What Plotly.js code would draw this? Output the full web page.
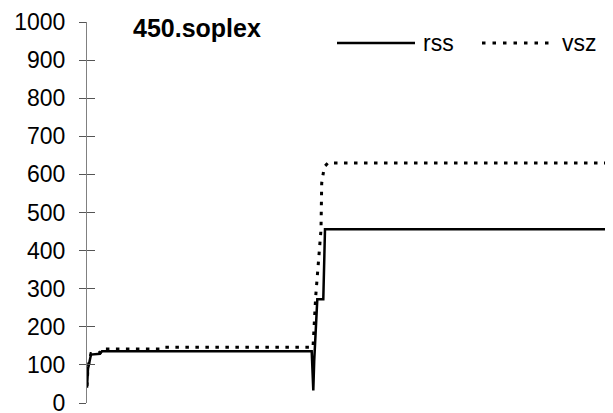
<!DOCTYPE html>
<html>
<head>
<meta charset="utf-8">
<script src="https://cdn.plot.ly/plotly-3.0.1.min.js"></script>
<style>html,body{margin:0;padding:0;background:#fff;}#chart{width:613px;height:413px;}</style>
</head>
<body>
<div id="chart"></div>
<script>
// Sample index (time steps) and memory values
const rssX = [0, 1, 4, 13, 15, 224.7, 226.3, 227.2, 230.3, 236.3, 238, 518];
const rssY = [40, 90, 127, 129, 136, 136, 33, 110, 272, 272, 456, 456];
const vszX = [0, 1, 4, 13, 15, 75, 77, 226, 228.7, 234, 234.7, 237.3, 241, 518];
const vszY = [45, 95, 130, 132, 142, 142, 146, 146, 280, 455, 577, 620, 630, 630];
const seriesNames = ['rss', 'vsz'];
const chartTitle = '450.soplex';
const yTicks = [0, 100, 200, 300, 400, 500, 600, 700, 800, 900, 1000];

const W = 613, H = 413, L = 87, R = 8, T = 22, B = 10;
const pw = W - L - R, ph = H - T - B;
const px = x => (x - L) / pw;
const py = y => (H - B - y) / ph;
const FONT = 'Liberation Sans, Arial, sans-serif';

const traces = [
  {x: rssX, y: rssY, name: seriesNames[0], mode: 'lines', type: 'scatter',
   line: {color: '#000', width: 2.5}, showlegend: false, hoverinfo: 'skip'},
  {x: vszX, y: vszY, name: seriesNames[1], mode: 'lines', type: 'scatter',
   line: {color: '#000', width: 3, dash: '3.5px,6.5px'}, showlegend: false, hoverinfo: 'skip'}
];

const layout = {
  width: W, height: H,
  margin: {l: L, r: R, t: T, b: B, pad: 0},
  paper_bgcolor: '#fff', plot_bgcolor: '#fff',
  showlegend: false,
  xaxis: {visible: false, range: [0, 518], fixedrange: true},
  yaxis: {range: [0, 1000], tickvals: yTicks, ticktext: yTicks.map(String),
          showgrid: false, zeroline: false, showline: true, linecolor: '#808080', linewidth: 1,
          ticks: 'outside', ticklen: 7, tickcolor: '#555', tickwidth: 1,
          ticklabelstandoff: 9, ticklabeloverflow: 'allow',
          tickfont: {family: FONT, size: 23, color: '#000'}, fixedrange: true},
  yaxis2: {range: [0, 1000], tickvals: yTicks, overlaying: 'y', side: 'left',
           showticklabels: false, showgrid: false, zeroline: false, showline: false,
           ticks: 'inside', ticklen: 8, tickcolor: '#555', tickwidth: 1, fixedrange: true},
  annotations: [
    {text: '<b>' + chartTitle + '</b>', xref: 'paper', yref: 'paper', x: px(131), y: py(27.5),
     xanchor: 'left', yanchor: 'middle', showarrow: false,
     font: {family: FONT, size: 25, color: '#000'}},
    {text: seriesNames[0], xref: 'paper', yref: 'paper', x: px(421), y: py(43),
     xanchor: 'left', yanchor: 'middle', showarrow: false,
     font: {family: FONT, size: 23, color: '#000'}},
    {text: seriesNames[1], xref: 'paper', yref: 'paper', x: px(560), y: py(43),
     xanchor: 'left', yanchor: 'middle', showarrow: false,
     font: {family: FONT, size: 23, color: '#000'}}
  ],
  shapes: [
    {type: 'line', xref: 'paper', yref: 'paper', x0: px(337), x1: px(415), y0: py(43), y1: py(43),
     line: {color: '#000', width: 2.5}},
    {type: 'line', xref: 'paper', yref: 'paper', x0: px(482), x1: px(555), y0: py(43), y1: py(43),
     line: {color: '#000', width: 3, dash: '3.5px,7px'}}
  ]
};

// invisible point on yaxis2 so the overlay axis (inner tick halves) is drawn
traces.push({x: [0], y: [0], yaxis: 'y2', mode: 'markers', marker: {opacity: 0}, showlegend: false, hoverinfo: 'skip'});

Plotly.newPlot('chart', traces, layout, {displayModeBar: false, staticPlot: true});
</script>
</body>
</html>
